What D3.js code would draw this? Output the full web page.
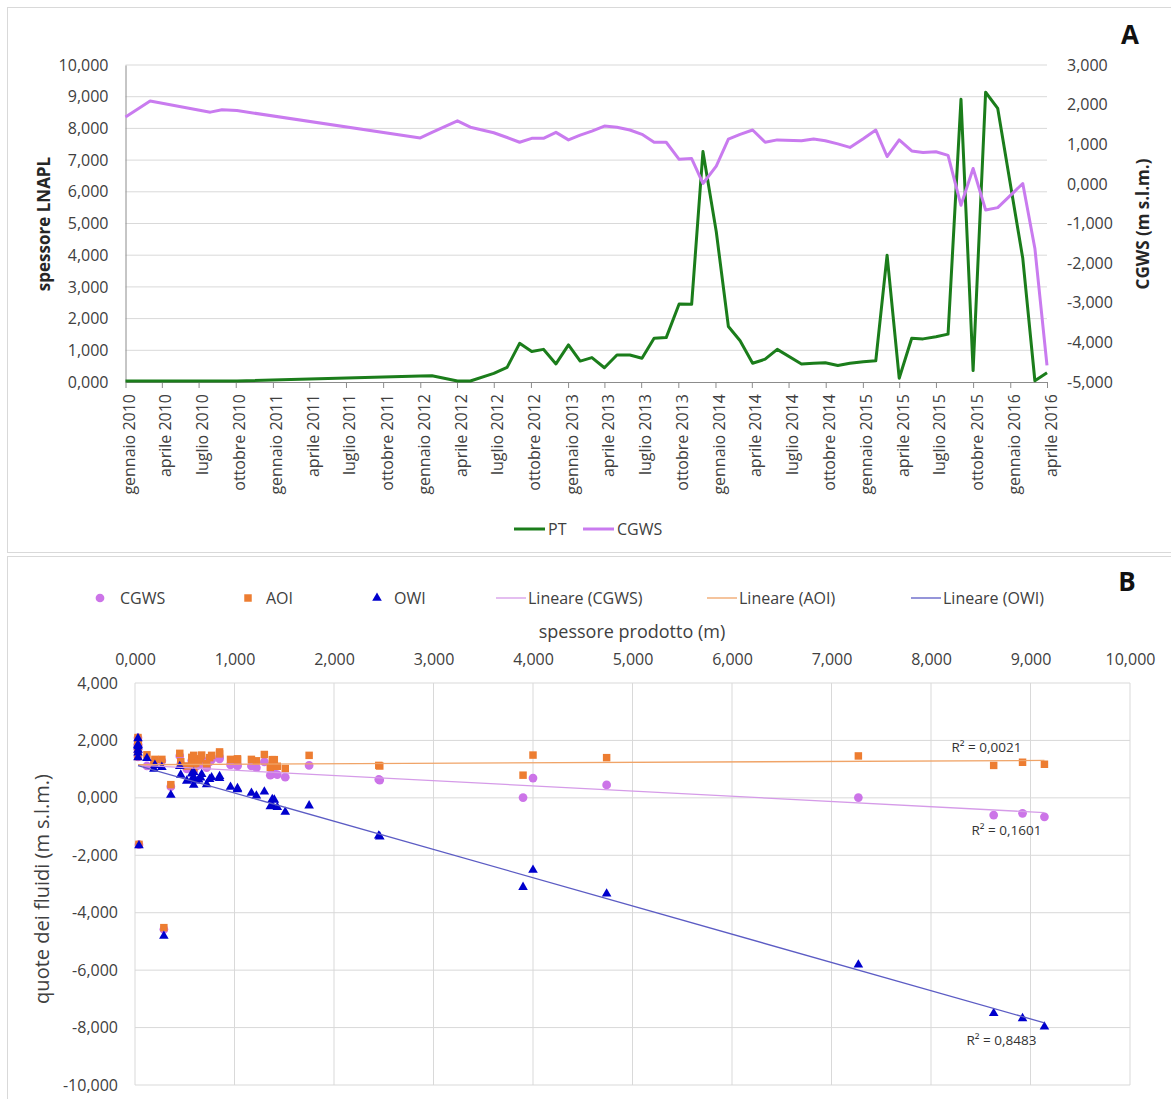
<!DOCTYPE html>
<html>
<head>
<meta charset="utf-8">
<script src="https://cdn.jsdelivr.net/npm/d3@7"></script>
<style>
  body { margin: 0; background: #ffffff; }
  svg { display: block; font-family: "Open Sans", "Noto Sans", sans-serif; }
</style>
</head>
<body>
<svg id="chart" width="1171" height="1099"></svg>
<script>
// ---- Monitoring dates (one row per survey) ----
const obsDates = [
  "2010-01-01","2010-03-03","2010-07-30","2010-08-28","2010-10-04",
  "2012-01-01","2012-01-30","2012-04-02","2012-05-04","2012-07-01","2012-08-03","2012-09-03","2012-10-03","2012-11-01","2012-12-02",
  "2013-01-02","2013-01-31","2013-03-01","2013-04-01","2013-05-02","2013-06-03","2013-07-03","2013-08-02","2013-09-01","2013-10-03","2013-11-03","2013-12-01",
  "2014-01-03","2014-02-02","2014-03-03","2014-04-03","2014-05-04","2014-06-03","2014-08-02","2014-09-01","2014-09-30","2014-10-31","2014-11-30",
  "2015-01-02","2015-02-02","2015-03-02","2015-04-01","2015-05-02","2015-05-30","2015-07-01","2015-07-31","2015-09-01","2015-10-01","2015-11-01","2015-12-01",
  "2016-02-01","2016-03-02","2016-04-01"
];

// PT: spessore LNAPL / spessore prodotto (m)
const ptValues = [
  0.03,0.03,0.03,0.03,0.03,
  0.19,0.20,0.03,0.03,0.27,0.46,1.22,0.96,1.03,0.57,
  1.17,0.66,0.77,0.45,0.85,0.85,0.75,1.38,1.40,2.46,2.45,7.27,
  4.74,1.75,1.30,0.59,0.72,1.03,0.57,0.59,0.61,0.52,0.59,
  0.64,0.67,4.00,0.12,1.38,1.36,1.43,1.51,8.92,0.36,9.14,8.63,
  3.90,0.04,0.29
];

// CGWS: quota falda corretta (m s.l.m.)
const cgwsValues = [
  1.69,2.09,1.81,1.87,1.85,
  1.16,1.30,1.59,1.43,1.29,1.17,1.05,1.15,1.15,1.30,
  1.11,1.23,1.33,1.46,1.43,1.36,1.25,1.05,1.05,0.62,0.64,0.01,
  0.45,1.13,1.25,1.36,1.05,1.11,1.09,1.13,1.09,1.01,0.92,
  1.14,1.36,0.69,1.11,0.83,0.79,0.81,0.72,-0.54,0.39,-0.66,-0.60,
  0.01,-1.63,-4.58
];

// AOI: interfaccia aria-olio (m s.l.m.)
const aoiValues = [
  1.70,2.10,1.82,1.88,1.86,
  1.20,1.34,1.60,1.44,1.34,1.26,1.29,1.34,1.36,1.41,
  1.34,1.36,1.48,1.55,1.60,1.53,1.40,1.33,1.33,1.11,1.13,1.46,
  1.40,1.48,1.51,1.48,1.19,1.32,1.20,1.25,1.21,1.11,1.04,
  1.27,1.49,1.49,1.50,1.11,1.06,1.10,1.02,1.24,0.46,1.17,1.13,
  0.79,-1.62,-4.52
];

// OWI: interfaccia olio-acqua (m s.l.m.)
const owiValues = [
  1.67,2.07,1.79,1.85,1.83,
  1.01,1.14,1.57,1.41,1.07,0.80,0.07,0.38,0.33,0.84,
  0.17,0.70,0.71,1.10,0.75,0.68,0.65,-0.05,-0.07,-1.35,-1.32,-5.81,
  -3.34,-0.27,0.21,0.89,0.47,0.29,0.63,0.66,0.60,0.59,0.45,
  0.63,0.82,-2.51,1.38,-0.27,-0.30,-0.33,-0.49,-7.68,0.10,-7.97,-7.50,
  -3.11,-1.66,-4.81
];

// Axis ticks and labels
const leftTicksA  = [0,1,2,3,4,5,6,7,8,9,10];
const rightTicksA = [-5,-4,-3,-2,-1,0,1,2,3];
const xTicksB     = [0,1,2,3,4,5,6,7,8,9,10];
const yTicksB     = [-10,-8,-6,-4,-2,0,2,4];
const itMonths = ["gennaio","febbraio","marzo","aprile","maggio","giugno",
                  "luglio","agosto","settembre","ottobre","novembre","dicembre"];
const r2Labels = ["R\u00b2 = 0,0021", "R\u00b2 = 0,1601", "R\u00b2 = 0,8483"];

// ---- Locales (Italian) ----
const numLocale = d3.formatLocale({ decimal: ",", thousands: ".", grouping: [3], currency: ["", "\u00a0€"], minus: "-" });
const fmt3 = numLocale.format(".3f");
const timeLocale = d3.timeFormatLocale({
  dateTime: "%A %e %B %Y, %X", date: "%d/%m/%Y", time: "%H:%M:%S", periods: ["AM", "PM"],
  days: ["domenica","lunedì","martedì","mercoledì","giovedì","venerdì","sabato"],
  shortDays: ["dom","lun","mar","mer","gio","ven","sab"],
  months: itMonths,
  shortMonths: ["gen","feb","mar","apr","mag","giu","lug","ago","set","ott","nov","dic"]
});
const fmtMonth = timeLocale.format("%B %Y");
const parseDate = d3.timeParse("%Y-%m-%d");

const rows = obsDates.map((d, i) => ({
  date: parseDate(d), pt: ptValues[i], cgws: cgwsValues[i], aoi: aoiValues[i], owi: owiValues[i]
}));

const svg = d3.select("#chart");
const TEXT = "#404040";
const GRID = "#d9d9d9";

// Panel frames
svg.append("rect").attr("x", 7.5).attr("y", 7.5).attr("width", 1175).attr("height", 545)
  .attr("fill", "none").attr("stroke", GRID);
svg.append("rect").attr("x", 7.5).attr("y", 556.5).attr("width", 1175).attr("height", 560)
  .attr("fill", "none").attr("stroke", GRID);

// ================= Panel A: time series =================
const colPT = "#1b7d1b";
const colCG = "#c97bef";

const xA = d3.scaleTime()
  .domain([new Date(2010, 0, 1), new Date(2016, 3, 1)])
  .range([125.5, 1047]);
const yL = d3.scaleLinear().domain([0, 10]).range([382, 65]);
const yR = d3.scaleLinear().domain([-5, 3]).range([382, 65]);

const gA = svg.append("g");

gA.append("g").selectAll("line").data(leftTicksA.filter(t => t > 0)).join("line")
  .attr("x1", xA.range()[0]).attr("x2", xA.range()[1])
  .attr("y1", d => yL(d)).attr("y2", d => yL(d))
  .attr("stroke", GRID).attr("stroke-width", 1);

const axL = gA.append("g").attr("transform", `translate(${xA.range()[0]},0)`)
  .call(d3.axisLeft(yL).tickValues(leftTicksA).tickSize(0).tickSizeOuter(0).tickPadding(17).tickFormat(fmt3));
axL.select(".domain").attr("stroke", "#8c8c8c");

const axR = gA.append("g").attr("transform", `translate(${xA.range()[1]},0)`)
  .call(d3.axisRight(yR).tickValues(rightTicksA).tickSize(0).tickPadding(20).tickFormat(fmt3));
axR.select(".domain").remove();

const axB = gA.append("g").attr("transform", `translate(0,${yL(0)})`)
  .call(d3.axisBottom(xA).ticks(d3.timeMonth.every(3)).tickSize(6).tickSizeOuter(0).tickFormat(fmtMonth));
axB.select(".domain").attr("stroke", "#8c8c8c");
axB.selectAll(".tick line").attr("stroke", "#8c8c8c");
axB.selectAll(".tick text")
  .attr("transform", "rotate(-90)")
  .attr("text-anchor", "end")
  .attr("x", -12).attr("y", 9).attr("dy", "0");

[axL, axR, axB].forEach(a => a.attr("font-size", 16).attr("font-family", null)
  .selectAll("text").attr("fill", TEXT));

const linePT = d3.line().x(d => xA(d.date)).y(d => yL(d.pt));
const lineCG = d3.line().x(d => xA(d.date)).y(d => yR(d.cgws));
gA.append("path").datum(rows).attr("d", linePT)
  .attr("fill", "none").attr("stroke", colPT).attr("stroke-width", 3).attr("stroke-linejoin", "round");
gA.append("path").datum(rows).attr("d", lineCG)
  .attr("fill", "none").attr("stroke", colCG).attr("stroke-width", 3).attr("stroke-linejoin", "round");

gA.append("text").attr("transform", "translate(50,224) rotate(-90)")
  .attr("text-anchor", "middle").attr("font-size", 17).attr("font-weight", "bold").attr("fill", "#262626")
  .text("spessore LNAPL");
gA.append("text").attr("transform", "translate(1149,224) rotate(-90)")
  .attr("text-anchor", "middle").attr("font-size", 17).attr("font-weight", "bold").attr("fill", "#262626")
  .text("CGWS (m s.l.m.)");

// Legend A
const legA = [{ name: "PT", col: colPT, x: 514 }, { name: "CGWS", col: colCG, x: 583 }];
legA.forEach(l => {
  gA.append("line").attr("x1", l.x).attr("x2", l.x + 31).attr("y1", 529).attr("y2", 529)
    .attr("stroke", l.col).attr("stroke-width", 3);
  gA.append("text").attr("x", l.x + 34).attr("y", 535).attr("font-size", 16).attr("fill", TEXT).text(l.name);
});

svg.append("text").attr("x", 1130).attr("y", 44).attr("text-anchor", "middle")
  .attr("font-size", 26).attr("font-weight", "bold").attr("fill", "#111").text("A");

// ================= Panel B: scatter =================
const colC = "#cc74e8", colO = "#ed7d31", colW = "#0000cd";
const trendC = "#d59be8", trendO = "#f0a468", trendW = "#5c5cc4";

const xB = d3.scaleLinear().domain([0, 10]).range([135, 1130]);
const yB = d3.scaleLinear().domain([-10, 4]).range([1085, 683]);
const gB = svg.append("g");

gB.append("g").selectAll("line").data(xTicksB).join("line")
  .attr("x1", d => xB(d)).attr("x2", d => xB(d)).attr("y1", yB(4)).attr("y2", yB(-10))
  .attr("stroke", GRID);
gB.append("g").selectAll("line").data(yTicksB).join("line")
  .attr("x1", xB(0)).attr("x2", xB(10)).attr("y1", d => yB(d)).attr("y2", d => yB(d))
  .attr("stroke", GRID);

const axTop = gB.append("g").attr("transform", `translate(0,${yB(4)})`)
  .call(d3.axisTop(xB).tickValues(xTicksB).tickSize(0).tickPadding(18).tickFormat(fmt3));
const axLeftB = gB.append("g").attr("transform", `translate(${xB(0)},0)`)
  .call(d3.axisLeft(yB).tickValues(yTicksB).tickSize(0).tickPadding(17).tickFormat(fmt3));
[axTop, axLeftB].forEach(a => {
  a.select(".domain").remove();
  a.attr("font-size", 16).attr("font-family", null).selectAll("text").attr("fill", TEXT);
});

gB.append("text").attr("x", 632).attr("y", 638).attr("text-anchor", "middle")
  .attr("font-size", 18).attr("fill", TEXT).text("spessore prodotto (m)");
gB.append("text").attr("transform", "translate(49,889) rotate(-90)")
  .attr("text-anchor", "middle").attr("font-size", 20).attr("fill", TEXT).text("quote dei fluidi (m s.l.m.)");

// Markers
const symCircle = d3.symbol().type(d3.symbolCircle).size(60)();
const symSquare = d3.symbol().type(d3.symbolSquare).size(56)();
const symTri = d3.symbol().type(d3.symbolTriangle).size(40)();

const series = [
  { key: "cgws", name: "CGWS", col: colC, sym: symCircle, trend: trendC },
  { key: "aoi",  name: "AOI",  col: colO, sym: symSquare, trend: trendO },
  { key: "owi",  name: "OWI",  col: colW, sym: symTri,    trend: trendW }
];

series.forEach(s => {
  gB.append("g").selectAll("path").data(rows).join("path")
    .attr("d", s.sym)
    .attr("transform", d => `translate(${xB(d.pt)},${yB(d[s.key])})`)
    .attr("fill", s.col);
});

// Least-squares linear trendlines
function linReg(xs, ys) {
  const mx = d3.mean(xs), my = d3.mean(ys);
  let sxy = 0, sxx = 0;
  xs.forEach((x, i) => { sxy += (x - mx) * (ys[i] - my); sxx += (x - mx) * (x - mx); });
  const slope = sxy / sxx;
  return { slope, intercept: my - slope * mx };
}
const xMin = d3.min(ptValues), xMax = d3.max(ptValues);
const r2Offsets = [[-58, -8], [-38, 22], [-43, 22]];
const r2Order = ["aoi", "cgws", "owi"];
series.forEach(s => {
  const fit = linReg(ptValues, rows.map(r => r[s.key]));
  const ends = [xMin, xMax].map(x => ({ x, y: fit.intercept + fit.slope * x }));
  gB.append("line")
    .attr("x1", xB(ends[0].x)).attr("y1", yB(ends[0].y))
    .attr("x2", xB(ends[1].x)).attr("y2", yB(ends[1].y))
    .attr("stroke", s.trend).attr("stroke-width", 1.3);
  s.end = ends[1];
});

r2Order.forEach((k, i) => {
  const s = series.find(q => q.key === k);
  gB.append("text")
    .attr("x", xB(s.end.x) + r2Offsets[i][0]).attr("y", yB(s.end.y) + r2Offsets[i][1])
    .attr("text-anchor", "middle").attr("font-size", 13.5).attr("fill", "#333")
    .text(r2Labels[i]);
});

// Legend B
const legY = 598;
const legMarkers = [
  { s: series[0], x: 100, tx: 120 },
  { s: series[1], x: 248, tx: 266 },
  { s: series[2], x: 377, tx: 394 }
];
legMarkers.forEach(l => {
  gB.append("path").attr("d", l.s.sym).attr("transform", `translate(${l.x},${legY})`).attr("fill", l.s.col);
  gB.append("text").attr("x", l.tx).attr("y", legY + 6).attr("font-size", 16).attr("fill", TEXT).text(l.s.name);
});
const legLines = [
  { s: series[0], x: 496 },
  { s: series[1], x: 707 },
  { s: series[2], x: 911 }
];
legLines.forEach(l => {
  gB.append("line").attr("x1", l.x).attr("x2", l.x + 30).attr("y1", legY).attr("y2", legY)
    .attr("stroke", l.s.trend).attr("stroke-width", 1.3);
  gB.append("text").attr("x", l.x + 32).attr("y", legY + 6).attr("font-size", 16).attr("fill", TEXT)
    .text(`Lineare (${l.s.name})`);
});

svg.append("text").attr("x", 1127).attr("y", 591).attr("text-anchor", "middle")
  .attr("font-size", 26).attr("font-weight", "bold").attr("fill", "#111").text("B");
</script>
</body>
</html>
